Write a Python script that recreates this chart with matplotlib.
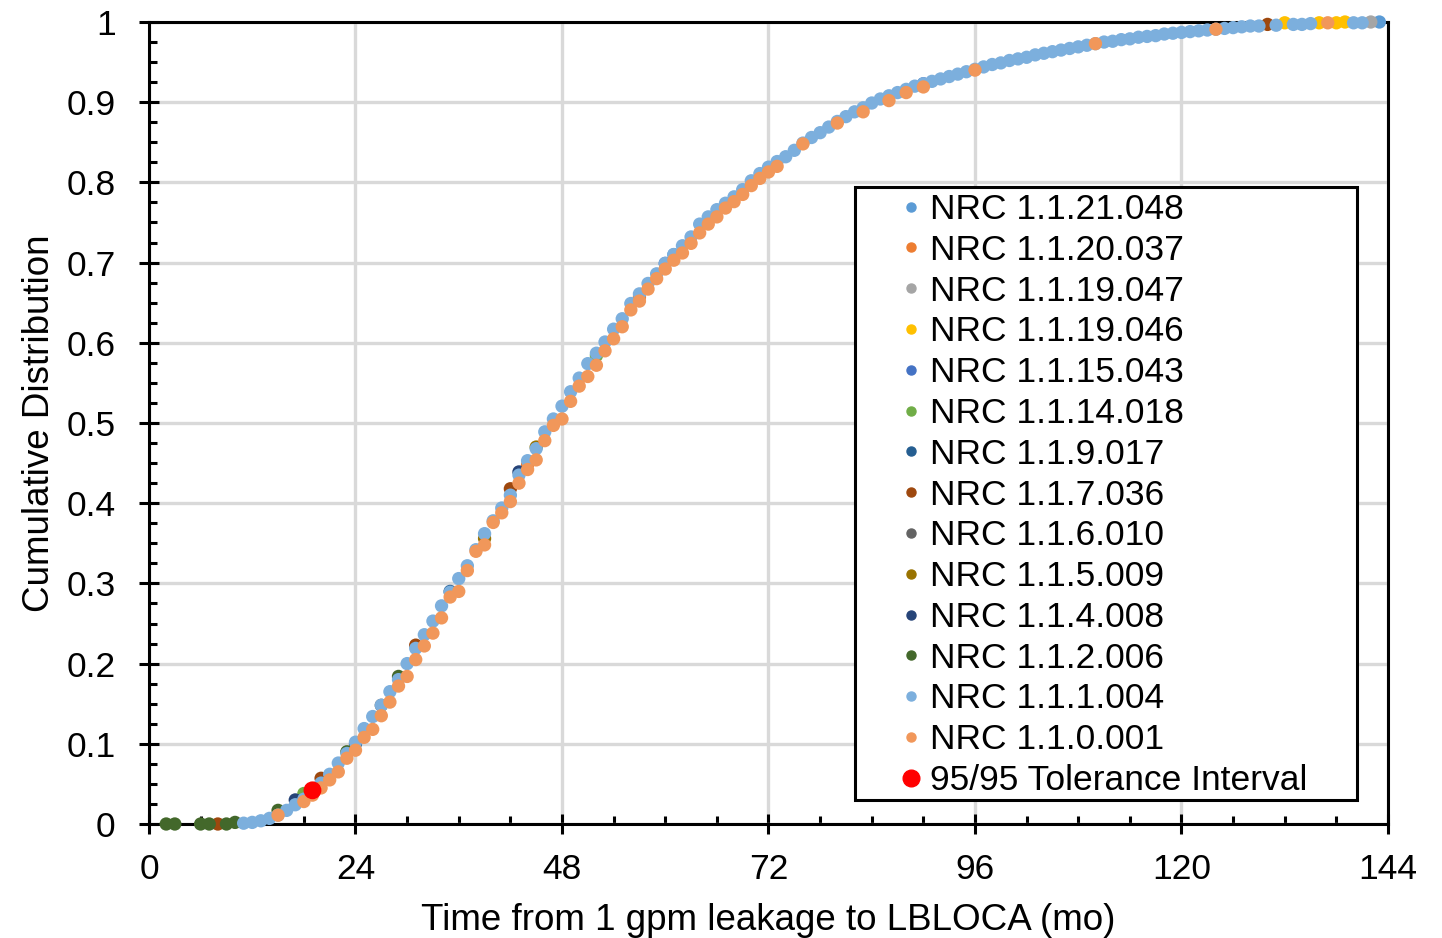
import matplotlib
matplotlib.use("Agg")
import matplotlib.pyplot as plt
from matplotlib.lines import Line2D
from matplotlib.patches import Rectangle
from matplotlib.ticker import MultipleLocator, FuncFormatter

plt.rcParams["font.family"] = ["Liberation Sans", "DejaVu Sans"]

# ---- data (time in months, cumulative fraction) ----
names = ["NRC 1.1.21.048", "NRC 1.1.20.037", "NRC 1.1.19.047", "NRC 1.1.19.046",
         "NRC 1.1.15.043", "NRC 1.1.14.018", "NRC 1.1.9.017", "NRC 1.1.7.036",
         "NRC 1.1.6.010", "NRC 1.1.5.009", "NRC 1.1.4.008", "NRC 1.1.2.006",
         "NRC 1.1.1.004", "NRC 1.1.0.001"]
colors = ["#5B9BD5", "#ED7D31", "#A5A5A5", "#FFC000", "#4472C4", "#70AD47",
          "#255E91", "#9E480E", "#636363", "#997300", "#264478", "#43682B",
          "#7CAFDD", "#F1975A"]

t_21048 = [61, 143]
f_21048 = [0.710, 1.000]
t_20037 = [44, 57]
f_20037 = [0.448, 0.657]
t_19047 = [142]
f_19047 = [1.000]
t_19046 = [132, 136, 138, 139]
f_19046 = [0.999, 0.999, 0.999, 1.000]
t_15043 = [60, 90]
f_15043 = [0.699, 0.923]
t_14018 = [18, 52]
f_14018 = [0.038, 0.584]
t_9017 = [24, 35]
f_9017 = [0.100, 0.290]
t_7036 = [8, 20, 31, 42, 130]
f_7036 = [0.000, 0.057, 0.223, 0.418, 0.997]
t_6010 = [27]
f_6010 = [0.148]
t_5009 = [39, 45]
f_5009 = [0.356, 0.470]
t_4008 = [17, 43]
f_4008 = [0.030, 0.439]
t_2006 = [2, 3, 6, 7, 9, 10, 15, 23, 29]
f_2006 = [0.000, 0.000, 0.000, 0.000, 0.000, 0.002, 0.017, 0.090, 0.184]

t_1004 = list(range(11, 130)) + [131, 133, 134, 135, 140, 141]
f_1004 = [0.001, 0.002, 0.004, 0.007, 0.011, 0.017, 0.024, 0.031, 0.040, 0.051,
          0.062, 0.076, 0.088, 0.102, 0.119, 0.134, 0.148, 0.165, 0.180, 0.200,
          0.219, 0.236, 0.253, 0.272, 0.289, 0.306, 0.322, 0.342, 0.362, 0.378,
          0.394, 0.410, 0.435, 0.453, 0.468, 0.489, 0.505, 0.521, 0.539, 0.556,
          0.574, 0.587, 0.601, 0.617, 0.630, 0.649, 0.661, 0.674, 0.686, 0.699,
          0.710, 0.721, 0.732, 0.748, 0.757, 0.766, 0.774, 0.782, 0.791, 0.802,
          0.811, 0.819, 0.826, 0.832, 0.840, 0.849, 0.856, 0.862, 0.869, 0.876,
          0.882, 0.888, 0.893, 0.899, 0.904, 0.908, 0.912, 0.916, 0.920, 0.923,
          0.926, 0.929, 0.932, 0.935, 0.938, 0.941, 0.944, 0.947, 0.949, 0.952,
          0.954, 0.956, 0.959, 0.961, 0.963, 0.965, 0.967, 0.969, 0.971, 0.973,
          0.975, 0.976, 0.978, 0.979, 0.981, 0.982, 0.983, 0.985, 0.986, 0.987,
          0.988, 0.989, 0.990, 0.991, 0.992, 0.993, 0.994, 0.995, 0.995,
          0.996, 0.997, 0.997, 0.998, 0.999, 0.999]

t_0001 = [15, 18] + list(range(19, 74)) + [76, 80, 83, 86, 88, 90, 96, 110, 124, 137]
f_0001 = [0.011, 0.028,
          0.036, 0.045, 0.055, 0.065, 0.082, 0.092, 0.108, 0.118, 0.135, 0.152,
          0.172, 0.184, 0.205, 0.222, 0.238, 0.257, 0.283, 0.290, 0.316, 0.340,
          0.348, 0.376, 0.388, 0.402, 0.425, 0.442, 0.454, 0.478, 0.497, 0.505,
          0.527, 0.546, 0.558, 0.572, 0.590, 0.605, 0.620, 0.641, 0.652, 0.667,
          0.680, 0.692, 0.703, 0.712, 0.724, 0.737, 0.748, 0.757, 0.768, 0.776,
          0.785, 0.796, 0.805, 0.813, 0.820,
          0.848, 0.874, 0.888, 0.902, 0.912, 0.919, 0.940, 0.973, 0.991, 0.999]

series_t = [t_21048, t_20037, t_19047, t_19046, t_15043, t_14018, t_9017,
            t_7036, t_6010, t_5009, t_4008, t_2006, t_1004, t_0001]
series_f = [f_21048, f_20037, f_19047, f_19046, f_15043, f_14018, f_9017,
            f_7036, f_6010, f_5009, f_4008, f_2006, f_1004, f_0001]

tol_t = [19]
tol_f = [0.042]

# ---- figure ----
W, H = 1442, 938
fig = plt.figure(figsize=(W / 100, H / 100), dpi=100)
ax = fig.add_axes([149 / W, (H - 824) / H, (1388 - 149) / W, (824 - 22) / H])

for i, (t, f) in enumerate(zip(series_t, series_f)):
    ax.scatter(t, f, s=92, color=colors[i], edgecolors="none",
               zorder=4 + i * 0.01, clip_on=False)
ax.scatter(tol_t, tol_f, s=165, color="#FF0000", edgecolors="none",
           zorder=5, clip_on=False)

ax.set_xlim(0, 144)
ax.set_ylim(0, 1)
ax.xaxis.set_major_locator(MultipleLocator(24))
ax.xaxis.set_minor_locator(MultipleLocator(6))
ax.yaxis.set_major_locator(MultipleLocator(0.1))
ax.yaxis.set_minor_locator(MultipleLocator(0.025))
ax.yaxis.set_major_formatter(FuncFormatter(
    lambda v, p: "0" if abs(v) < 1e-9 else ("1" if abs(v - 1) < 1e-9 else f"{v:.1f}")))

ax.grid(which="major", color="#D9D9D9", lw=2.4)
ax.set_axisbelow(True)
for sp in ax.spines.values():
    sp.set_linewidth(2.2)
    sp.set_color("black")

ax.tick_params(which="major", direction="inout", length=14, width=2.2,
               labelsize=25.5, color="black")
ax.tick_params(axis="y", which="major", pad=17)
ax.tick_params(axis="x", which="major", pad=14)
ax.tick_params(which="minor", direction="in", length=6, width=2.2, color="black")

ax.set_xlabel("Time from 1 gpm leakage to LBLOCA (mo)", fontsize=26.5, labelpad=12)
ax.set_ylabel("Cumulative Distribution", fontsize=26.5, labelpad=7)

handles = [Line2D([], [], ls="none", marker="o", ms=6.5, mfc=c, mec=c)
           for c in colors]
handles.append(Line2D([], [], ls="none", marker="o", ms=12, mfc="#FF0000",
                      mec="#FF0000"))
labels = names + ["95/95 Tolerance Interval"]
leg = fig.legend(handles, labels, loc="upper left",
                 bbox_to_anchor=(900 / W, (H - 193) / H),
                 frameon=False, fontsize=25.5, borderpad=0, borderaxespad=0,
                 handlelength=0.6, handletextpad=0.25, labelspacing=0.22)
leg.set_zorder(10)

fig.patches.append(Rectangle((855 / W, (H - 800) / H), 502 / W, 613 / H,
                             transform=fig.transFigure, facecolor="white",
                             edgecolor="black", lw=2.2, zorder=8))

fig.savefig("out.png", dpi=100)
